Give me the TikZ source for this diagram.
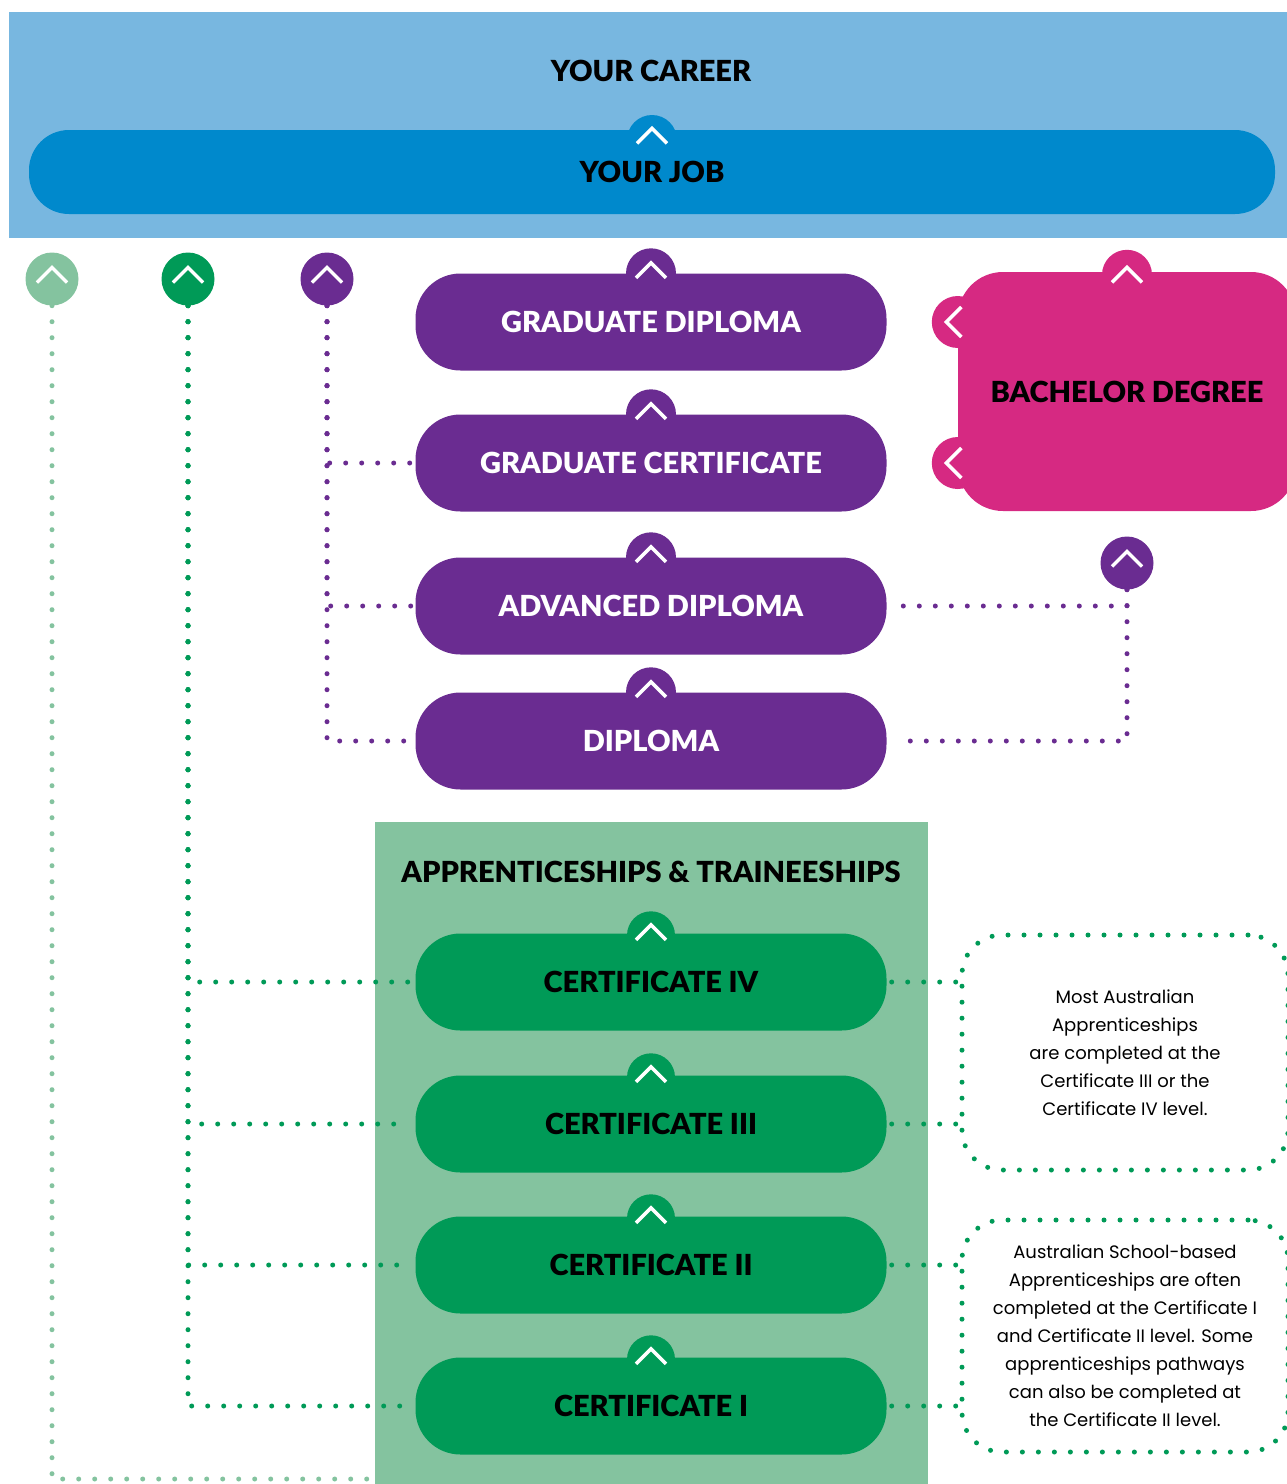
\documentclass[tikz,border=0pt]{standalone}
\usepackage{fontspec}
\setmainfont{Poppins}
\newfontfamily\headfont{Lato Black}
\usetikzlibrary{positioning}

\definecolor{skyblue}{HTML}{78B7E0}
\definecolor{jobblue}{HTML}{0089CC}
\definecolor{univiolet}{HTML}{6A2C91}
\definecolor{bachpink}{HTML}{D62982}
\definecolor{tradegreen}{HTML}{009A57}
\definecolor{palegreen}{HTML}{84C39F}

\tikzset{
  pill/.style={rectangle, rounded corners=45pt, minimum width=471pt, minimum height=97pt, inner sep=0pt, font=\headfont\fontsize{29}{33}\selectfont},
  knob/.style={circle, minimum size=53pt, inner sep=0pt},
  dotline/.style={line width=5pt, line cap=round, dash pattern=on 0pt off 16pt},
  note/.style={rectangle, rounded corners=40pt, minimum width=326pt, dotline, draw=tradegreen, align=center, font=\fontsize{18}{28}\selectfont},
  upchev/.pic={\draw[white, line width=3.5pt] (-15,7.5) -- (0,-7.5) -- (15,7.5);},
  leftchev/.pic={\draw[white, line width=3.5pt] (7.5,-15) -- (-7.5,0) -- (7.5,15);}
}

\begin{document}
\begin{tikzpicture}[x=1pt, y=-1pt]
\useasboundingbox (0,0) rectangle (1287,1484);
% Career band
\fill[skyblue] (9,12) rectangle (1295,238);
\node[font=\headfont\fontsize{29}{33}\selectfont] (career) at (651,71) {YOUR CAREER};
\fill[jobblue] (652,140) circle (25pt);
\node[pill, fill=jobblue, minimum width=1246pt, minimum height=84pt, rounded corners=40pt] (job) at (652,172) {YOUR JOB};
\pic[yshift=-6pt] at (job.north) {upchev};

% Knobs
\node[knob, fill=palegreen] (knobPale) at (52,279) {};
\node[knob, fill=tradegreen] (knobGreen) at (188,279) {};
\node[knob, fill=univiolet] (knobViolet) at (327,279) {};
\node[knob, fill=univiolet] (knobBach) at (1127,563) {};
\foreach \k in {knobPale,knobGreen,knobViolet,knobBach} \pic[yshift=4pt] at (\k) {upchev};

% Higher education
\node[pill, fill=univiolet, text=white] (gradDip) at (651,322) {GRADUATE DIPLOMA};
\node[pill, fill=univiolet, text=white] (gradCert) at (651,463) {GRADUATE CERTIFICATE};
\node[pill, fill=univiolet, text=white] (advDip) at (651,606) {ADVANCED DIPLOMA};
\node[pill, fill=univiolet, text=white] (diploma) at (651,741) {DIPLOMA};
\foreach \b in {gradDip,gradCert,advDip,diploma} {
  \fill[univiolet] (\b.north) circle (25pt);
  \pic[yshift=3pt] at (\b.north) {upchev};
}

% Bachelor
\node[pill, fill=bachpink, minimum width=338pt, minimum height=239pt] (bachelor) at (1127,391.5) {BACHELOR DEGREE};
\fill[bachpink] ([yshift=-3pt]bachelor.north) circle (25pt);
\pic[yshift=-3pt] at (bachelor.north) {upchev};
\foreach \b in {gradDip,gradCert} {
  \fill[bachpink] (bachelor.west |- \b) circle (26pt);
  \pic[xshift=-4pt] at (bachelor.west |- \b) {leftchev};
}

% Apprenticeships
\coordinate (paleEnd) at (375,1479);
\draw[dotline, palegreen] (knobPale.south) |- (paleEnd);
\fill[palegreen] (375,822) rectangle (928,1490);
\node[font=\headfont\fontsize{29}{33}\selectfont] (traineeships) at (651,872) {APPRENTICESHIPS \& TRAINEESHIPS};
\node[pill, fill=tradegreen] (certIV) at (651,982) {CERTIFICATE IV};
\node[pill, fill=tradegreen] (certIII) at (651,1124) {CERTIFICATE III};
\node[pill, fill=tradegreen] (certII) at (651,1265) {CERTIFICATE II};
\node[pill, fill=tradegreen] (certI) at (651,1406) {CERTIFICATE I};
\foreach \b in {certIV,certIII,certII,certI} {
  \fill[tradegreen] ([yshift=-2pt]\b.north) circle (24pt);
  \pic[yshift=1pt] at (\b.north) {upchev};
}

% Notes
\node[note, minimum height=235pt] (noteUpper) at (1125,1052.5) {Most Australian\\Apprenticeships\\are completed at the\\Certificate III or the\\Certificate IV level.};
\node[note, minimum height=232pt] (noteLower) at (1125,1336) {Australian School-based\\Apprenticeships are often\\completed at the Certificate I\\and Certificate II level. Some\\apprenticeships pathways\\can also be completed at\\the Certificate II level.};

% Lines
\foreach \b in {gradCert,advDip,diploma} \draw[dotline, univiolet, shorten >=4pt] (knobViolet.south) |- (\b.west);
\foreach \b in {advDip,diploma} \draw[dotline, univiolet, shorten >=10pt] (knobBach.south) |- (\b.east);
\foreach \b in {certIV,certIII,certII,certI} \draw[dotline, tradegreen, shorten >=6pt] (knobGreen.south) |- (\b.west);
\foreach \b in {certIV,certIII} \draw[dotline, tradegreen, shorten <=5pt] (\b.east) -- (\b -| noteUpper.west);
\foreach \b in {certII,certI} \draw[dotline, tradegreen, shorten <=5pt] (\b.east) -- (\b -| noteLower.west);
\end{tikzpicture}
\end{document}
